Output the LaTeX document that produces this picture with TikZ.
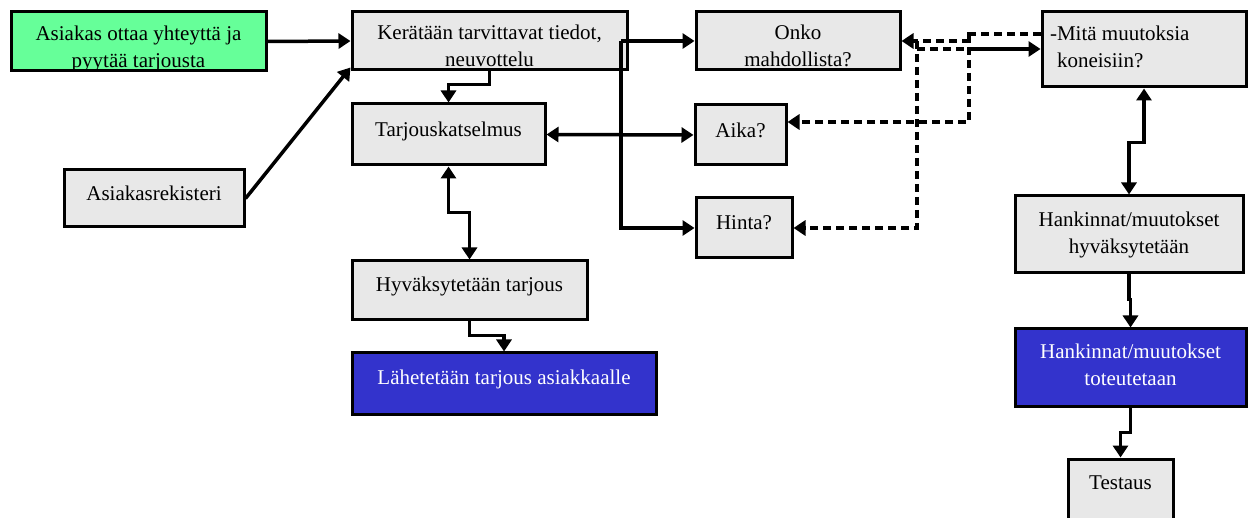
\documentclass[tikz,border=0pt]{standalone}
\usepackage{fontspec}
\setmainfont{Liberation Serif}
\usetikzlibrary{arrows.meta,calc}
\definecolor{boxgray}{HTML}{E8E8E8}
\definecolor{startgreen}{HTML}{66FF99}
\definecolor{endblue}{HTML}{3333CC}
% text block moved vertically without changing the node size
\newcommand{\boxtext}[3][c]{\raisebox{#2}[\height][\depth]{\begin{tabular}{@{}#1@{}}#3\end{tabular}}}
\begin{document}
\begin{tikzpicture}[x=1pt,y=-1pt,
  every node/.style={font=\fontsize{21}{27}\selectfont},
  box/.style={draw=black,line width=3pt,fill=boxgray,rectangle,inner sep=0pt},
  startbox/.style={box,fill=startgreen},
  endbox/.style={box,fill=endblue,text=white},
  conn/.style={line width=3.5pt},
  arrA/.style={conn,-{Triangle[length=12pt,width=15pt]}},
  arrB/.style={conn,{Triangle[length=12pt,width=15pt]}-{Triangle[length=12pt,width=15pt]}},
  dsh/.style={dash pattern=on 8pt off 5pt}]
\useasboundingbox (0,0) rectangle (1250,518);
\clip (0,0) rectangle (1250,518);

% left part: offer process
\node[startbox,minimum width=255pt,minimum height=59pt] (cust) at (138.5,41.5)
  {\boxtext{-7pt}{Asiakas ottaa yhteyttä ja\\pyytää tarjousta}};
\node[box,minimum width=275pt,minimum height=58pt] (kerat) at (489.5,41)
  {\boxtext{-7pt}{Kerätään tarvittavat tiedot,\\neuvottelu}};
\node[box,minimum width=180pt,minimum height=57pt] (rek) at (154,198.5)
  {\boxtext{3pt}{Asiakasrekisteri}};
\node[box,minimum width=193pt,minimum height=61pt] (tarj) at (448.5,134.5)
  {\boxtext{3pt}{Tarjouskatselmus}};
\node[box,minimum width=235pt,minimum height=59pt] (hyv) at (469.5,290.5)
  {\boxtext{4pt}{Hyväksytetään tarjous}};
\node[endbox,minimum width=304pt,minimum height=61pt] (lah) at (504,383.5)
  {\boxtext{4pt}{Lähetetään tarjous asiakkaalle}};

% middle column: questions
\node[box,minimum width=204pt,minimum height=58pt] (onko) at (798,41)
  {\boxtext{-7pt}{Onko\\mahdollista?}};
\node[box,minimum width=91pt,minimum height=60pt] (aika) at (740.5,135)
  {\boxtext{3pt}{Aika?}};
\node[box,minimum width=96pt,minimum height=60pt] (hinta) at (744,228)
  {\boxtext{4pt}{Hinta?}};

% right column: machine changes
\node[box,minimum width=204pt,minimum height=75pt] (mita) at (1144,49.5)
  {\boxtext[l]{1pt}{\makebox[188pt][l]{-Mitä muutoksia}\\\hspace*{7pt}koneisiin?}};
\node[box,minimum width=228pt,minimum height=77pt] (hkhy) at (1129,234.5)
  {\boxtext{0pt}{Hankinnat/muutokset\\hyväksytetään}};
\node[endbox,minimum width=231pt,minimum height=77pt] (hkto) at (1130.5,367.5)
  {\boxtext{1pt}{Hankinnat/muutokset\\toteutetaan}};
\node[box,minimum width=105pt,minimum height=80pt] (test) at (1120.5,499)
  {\boxtext{15pt}{Testaus}};

% bend points of the connectors
\coordinate (kx) at ([xshift=-7.5pt]kerat.east);
\coordinate (r1) at (969,34);
\coordinate (l1) at (917,41);
\coordinate (l2) at (917,49);
\coordinate (r2) at (969,49);

% solid connectors
\draw[arrA] (cust.east) -- (kerat.west);
\draw[arrA] (rek.east) -- ([yshift=4pt]kerat.south west);
\draw[arrA] (kerat.south) -- ++(0,13) -| (tarj.north);
\draw[arrA] (kx) -- (kx -| onko.west);
\draw[arrA] (kx) |- (hinta.west);
\draw[arrB] (tarj.east) -- (aika.west);
\draw[arrB] (tarj.south) -- ++(0,46) -| (hyv.north);
\draw[arrA] (hyv.south) -- ++(0,14) -| (lah.north);
\draw[arrA] (r2) -- (r2 -| mita.west);
\draw[arrB] (mita.south) -- ++(0,54) -| (hkhy.north);
\draw[arrA] (hkhy.south) -- ++(0,25) -| (hkto.north);
\draw[arrA] (hkto.south) -- ++(0,25) -| (test.north);

% dashed feedback connectors
\draw[arrA,dsh] (r1 -| mita.west) -- (r1) |- (onko.east);
\draw[arrA,dsh] (r1) |- ([yshift=13pt]aika.east);
\draw[arrA,dsh] (l1) |- (hinta.east);
\draw[conn,dsh] (l2) -- (r2);
\end{tikzpicture}
\end{document}
